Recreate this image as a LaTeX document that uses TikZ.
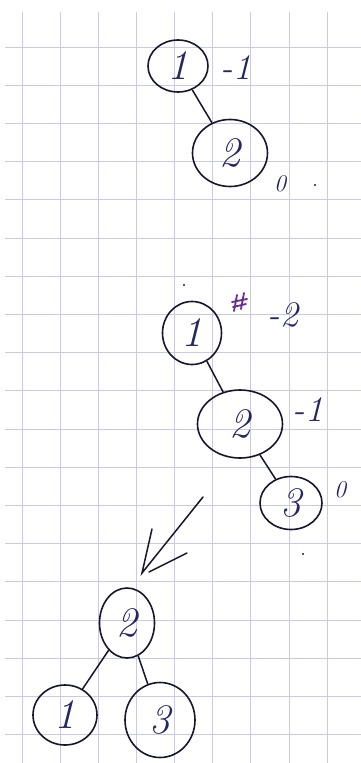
\documentclass[tikz,border=0pt]{standalone}
\usetikzlibrary{shapes.geometric}
\definecolor{gridc}{RGB}{202,202,232}
\definecolor{inkc}{RGB}{22,22,45}
\definecolor{numc}{RGB}{38,38,100}
\definecolor{markc}{RGB}{105,45,150}
\begin{document}
\begin{tikzpicture}[x=1pt,y=-1pt,
  tn/.style={ellipse,draw=inkc,line width=1.6pt,inner sep=0pt,text=numc,
    font=\fontsize{42}{44}\selectfont\itshape},
  bal/.style={text=numc,font=\fontsize{36}{38}\selectfont\itshape,inner sep=0pt},
  zero/.style={text=numc,font=\fontsize{24}{26}\selectfont\itshape,inner sep=0pt},
  edge/.style={draw=inkc,line width=1.5pt},
  gridl/.style={draw=gridc,line width=1pt}]
\fill[white] (0,0) rectangle (361,763);
\useasboundingbox (0,0) rectangle (361,763);
% grid
\foreach \k in {0,...,8} {\draw[gridl] ({22+38.15*\k},12) -- ({22+38.15*\k},763);}
\foreach \k in {0,...,18} {\draw[gridl] (5,{47+38.2*\k}) -- (361,{47+38.2*\k});}
% tree 1
\node[tn,minimum width=60pt,minimum height=52pt] (a1) at (178,66) {1};
\node[tn,minimum width=75pt,minimum height=67pt] (a2) at (230,153) {2};
\draw[edge] (a1) -- (a2);
\node[bal] (la1) at (236,68) {-1};
\node[zero] (la2) at (280,184) {0};
\fill[inkc] (315,185) circle (1.2pt);
% tree 2
\fill[inkc] (184,285) circle (1.2pt);
\node[tn,minimum width=59pt,minimum height=63pt] (b1) at (192,333) {1};
\node[tn,minimum width=85pt,minimum height=68pt] (b2) at (240,424) {2};
\node[tn,minimum width=62pt,minimum height=53pt] (b3) at (291,503) {3};
\draw[edge] (b1) -- (b2);
\draw[edge] (b2) -- (b3);
\draw[markc,line width=1.8pt,line cap=round] (237,295) -- (234,311) (244,293) -- (241,309) (232,302) -- (247,299) (233,307) -- (246,304);
\node[bal] (lb1) at (283,315) {-2};
\node[bal] (lb2) at (308,410) {-1};
\node[zero] (lb3) at (340,490) {0};
\fill[inkc] (303,554) circle (1.2pt);
% arrow
\coordinate (tip) at (142,573);
\coordinate (s1) at (203,497);
\coordinate (s2) at (152,529);
\coordinate (s3) at (187,553);
\draw[edge,line cap=round] (s1) -- (tip) -- (s2);
\draw[edge,line cap=round] (s3) -- (149,572);
% tree 3
\node[tn,minimum width=55pt,minimum height=70pt] (c2) at (127,623) {2};
\node[tn,minimum width=64pt,minimum height=60pt] (c1) at (65,715) {1};
\node[tn,minimum width=70pt,minimum height=75pt] (c3) at (160,720) {3};
\draw[edge] (c2) -- (c1);
\draw[edge] (c2) -- (c3);
\end{tikzpicture}
\end{document}
